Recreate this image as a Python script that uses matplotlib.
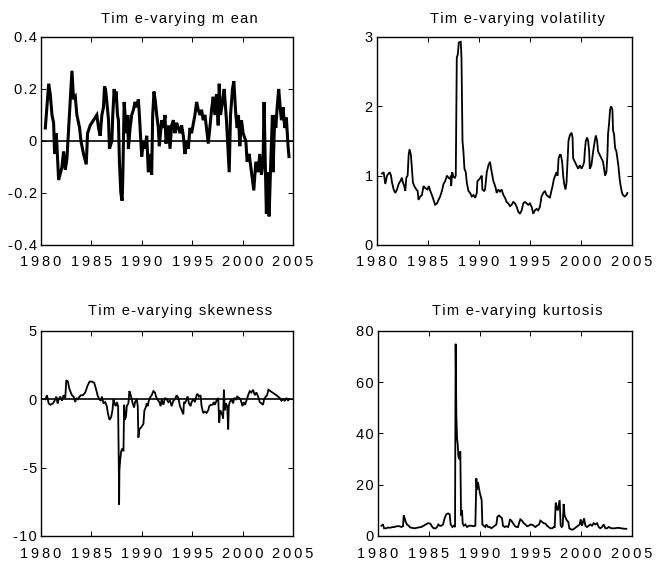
import matplotlib
matplotlib.use("Agg")
import matplotlib.pyplot as plt
from matplotlib.ticker import FixedLocator, FixedFormatter

plt.rcParams['font.family'] = ['Liberation Sans', 'DejaVu Sans']

# time-varying moments, sampled dates (years) and values
mean_t = [1980.43, 1980.76, 1980.92, 1981.09, 1981.25, 1981.35, 1981.52, 1981.75, 1982.08, 1982.24,
          1982.41, 1982.57, 1982.97, 1983.07, 1983.23, 1983.40, 1983.56, 1983.83, 1983.96, 1984.22,
          1984.49, 1984.62, 1984.88, 1985.21, 1985.54, 1985.71, 1985.87, 1986.04, 1986.20, 1986.30,
          1986.40, 1986.53, 1986.70, 1986.79, 1987.03, 1987.12, 1987.26, 1987.35, 1987.45, 1987.59,
          1987.68, 1987.78, 1987.92, 1988.05, 1988.11, 1988.25, 1988.34, 1988.51, 1988.61, 1988.67,
          1988.84, 1989.00, 1989.17, 1989.33, 1989.50, 1989.66, 1989.76, 1989.99, 1990.16, 1990.32,
          1990.49, 1990.65, 1990.82, 1990.98, 1991.08, 1991.21, 1991.35, 1991.48, 1991.64, 1991.74,
          1991.97, 1992.14, 1992.30, 1992.40, 1992.63, 1992.80, 1992.96, 1993.13, 1993.29, 1993.46,
          1993.62, 1993.79, 1993.95, 1994.12, 1994.28, 1994.45, 1994.61, 1994.78, 1994.94, 1995.27,
          1995.44, 1995.60, 1995.77, 1995.93, 1996.09, 1996.26, 1996.42, 1996.59, 1996.75, 1996.92,
          1997.08, 1997.25, 1997.41, 1997.58, 1997.68, 1997.81, 1998.01, 1998.17, 1998.40, 1998.67,
          1998.80, 1999.00, 1999.13, 1999.33, 1999.46, 1999.59, 1999.72, 1999.89, 2000.05, 2000.32,
          2000.45, 2000.65, 2000.88, 2001.11, 2001.31, 2001.54, 2001.70, 2001.87, 2002.03, 2002.13,
          2002.23, 2002.36, 2002.46, 2002.63, 2002.76, 2002.96, 2003.02, 2003.19, 2003.29, 2003.45,
          2003.58, 2003.75, 2003.85, 2004.01, 2004.18, 2004.34, 2004.51, 2004.60]
mean_v = [0.05, 0.22, 0.18, 0.10, 0.07, -0.05, 0.03, -0.15, -0.10, -0.04,
          -0.11, -0.07, 0.20, 0.27, 0.16, 0.17, 0.10, 0.05, 0.00, -0.05,
          -0.09, 0.03, 0.06, 0.08, 0.10, 0.05, 0.02, 0.10, 0.13, 0.21,
          0.20, 0.15, 0.08, -0.03, 0.00, 0.10, 0.20, 0.15, 0.19, 0.10,
          0.08, -0.08, -0.20, -0.23, -0.15, 0.15, 0.10, 0.03, 0.10, -0.03,
          0.05, 0.10, 0.12, 0.15, 0.13, 0.16, 0.10, -0.06, 0.00, -0.03,
          0.02, -0.12, -0.05, -0.13, 0.10, 0.19, 0.15, 0.10, 0.05, -0.02,
          0.08, 0.05, 0.10, -0.01, 0.06, -0.03, 0.06, 0.08, 0.03, 0.07,
          0.05, 0.03, 0.06, 0.02, -0.05, 0.00, -0.03, 0.05, 0.03, 0.10,
          0.15, 0.12, 0.10, 0.12, 0.08, 0.10, 0.05, -0.01, 0.05, 0.12,
          0.17, 0.10, 0.18, 0.06, 0.22, 0.10, 0.15, 0.20, 0.08, -0.12,
          0.10, 0.20, 0.23, 0.10, 0.05, 0.10, -0.02, 0.08, 0.03, 0.00,
          -0.08, -0.05, -0.12, -0.19, -0.08, -0.12, -0.05, -0.13, -0.08, 0.15,
          -0.05, -0.28, -0.12, -0.29, -0.12, 0.10, -0.12, 0.10, 0.05, 0.14,
          0.20, 0.12, 0.08, 0.13, 0.05, 0.09, -0.02, -0.06]

vol_t = [1980.49, 1980.65, 1980.81, 1980.98, 1981.24, 1981.37, 1981.47, 1981.63, 1981.79, 1981.96,
         1982.12, 1982.28, 1982.44, 1982.54, 1982.67, 1982.77, 1982.87, 1983.00, 1983.10, 1983.19,
         1983.32, 1983.42, 1983.52, 1983.65, 1983.85, 1983.98, 1984.07, 1984.24, 1984.40, 1984.56,
         1984.73, 1984.95, 1985.08, 1985.22, 1985.38, 1985.54, 1985.70, 1985.87, 1986.03, 1986.19,
         1986.36, 1986.52, 1986.68, 1986.85, 1987.01, 1987.17, 1987.24, 1987.27, 1987.37, 1987.50,
         1987.63, 1987.72, 1987.82, 1987.92, 1988.02, 1988.21, 1988.28, 1988.38, 1988.47, 1988.57,
         1988.70, 1988.80, 1988.96, 1989.13, 1989.29, 1989.45, 1989.62, 1989.78, 1989.84, 1990.04,
         1990.17, 1990.27, 1990.33, 1990.50, 1990.59, 1990.76, 1990.92, 1991.08, 1991.18, 1991.31,
         1991.41, 1991.51, 1991.64, 1991.73, 1991.90, 1992.06, 1992.22, 1992.39, 1992.55, 1992.71,
         1992.87, 1993.04, 1993.20, 1993.36, 1993.53, 1993.69, 1993.85, 1994.02, 1994.18, 1994.34,
         1994.50, 1994.67, 1994.83, 1994.99, 1995.16, 1995.32, 1995.48, 1995.65, 1995.81, 1995.97,
         1996.13, 1996.30, 1996.46, 1996.62, 1996.79, 1996.95, 1997.05, 1997.21, 1997.34, 1997.47,
         1997.60, 1997.70, 1997.80, 1997.93, 1998.02, 1998.15, 1998.25, 1998.35, 1998.48, 1998.58,
         1998.68, 1998.77, 1998.90, 1999.07, 1999.17, 1999.23, 1999.39, 1999.56, 1999.72, 1999.88,
         2000.05, 2000.21, 2000.31, 2000.37, 2000.47, 2000.60, 2000.70, 2000.80, 2000.86, 2001.02,
         2001.19, 2001.35, 2001.45, 2001.58, 2001.67, 2001.84, 2002.00, 2002.16, 2002.26, 2002.36,
         2002.49, 2002.59, 2002.65, 2002.75, 2002.85, 2002.95, 2003.08, 2003.14, 2003.24, 2003.34,
         2003.47, 2003.57, 2003.66, 2003.79, 2003.89, 2004.02, 2004.12, 2004.28, 2004.45, 2004.54]
vol_v = [1.03, 1.05, 0.88, 1.00, 1.05, 1.00, 0.90, 0.80, 0.75, 0.80,
         0.88, 0.92, 0.97, 0.90, 0.85, 0.78, 0.97, 1.00, 1.30, 1.38,
         1.30, 1.10, 0.90, 0.85, 0.80, 0.78, 0.65, 0.70, 0.72, 0.85,
         0.82, 0.80, 0.85, 0.78, 0.72, 0.65, 0.58, 0.60, 0.65, 0.70,
         0.78, 0.88, 0.92, 1.00, 0.97, 0.95, 1.00, 0.85, 1.05, 0.98,
         0.97, 1.00, 2.70, 2.75, 2.92, 2.93, 2.70, 1.50, 1.35, 1.10,
         1.05, 0.90, 0.78, 0.75, 0.70, 0.72, 0.68, 0.75, 0.92, 0.95,
         0.98, 1.00, 0.80, 0.78, 0.80, 1.05, 1.15, 1.20, 1.10, 1.00,
         0.92, 0.88, 0.82, 0.75, 0.80, 0.77, 0.80, 0.72, 0.68, 0.62,
         0.60, 0.56, 0.58, 0.62, 0.60, 0.55, 0.48, 0.45, 0.50, 0.60,
         0.62, 0.60, 0.58, 0.60, 0.55, 0.45, 0.50, 0.52, 0.50, 0.55,
         0.70, 0.75, 0.78, 0.72, 0.70, 0.68, 0.75, 0.85, 0.95, 1.00,
         1.05, 1.00, 1.25, 1.30, 1.30, 1.20, 1.00, 0.88, 0.80, 0.90,
         1.20, 1.50, 1.58, 1.62, 1.55, 1.25, 1.20, 1.15, 1.10, 1.15,
         1.10, 1.15, 1.20, 1.35, 1.50, 1.55, 1.50, 1.35, 1.10, 1.15,
         1.35, 1.50, 1.58, 1.50, 1.35, 1.30, 1.25, 1.20, 1.10, 1.00,
         1.05, 1.30, 1.60, 1.75, 1.95, 2.00, 1.95, 1.65, 1.60, 1.40,
         1.35, 1.25, 1.15, 0.95, 0.85, 0.75, 0.72, 0.70, 0.72, 0.75]

skew_t = [1980.43, 1980.59, 1980.76, 1980.92, 1981.19, 1981.35, 1981.52, 1981.65, 1981.75, 1981.91,
          1982.08, 1982.24, 1982.41, 1982.51, 1982.67, 1982.80, 1982.90, 1983.07, 1983.23, 1983.40,
          1983.50, 1983.66, 1983.83, 1983.96, 1984.16, 1984.39, 1984.62, 1984.82, 1985.05, 1985.28,
          1985.44, 1985.61, 1985.77, 1985.94, 1986.04, 1986.20, 1986.37, 1986.53, 1986.63, 1986.79,
          1986.96, 1987.09, 1987.19, 1987.29, 1987.42, 1987.52, 1987.65, 1987.72, 1987.75, 1987.78,
          1987.85, 1987.95, 1988.08, 1988.18, 1988.25, 1988.34, 1988.44, 1988.51, 1988.67, 1988.77,
          1988.90, 1989.00, 1989.10, 1989.23, 1989.33, 1989.50, 1989.60, 1989.66, 1989.76, 1989.99,
          1990.16, 1990.26, 1990.39, 1990.49, 1990.59, 1990.72, 1990.88, 1990.98, 1991.15, 1991.31,
          1991.41, 1991.54, 1991.74, 1991.87, 1991.97, 1992.14, 1992.30, 1992.47, 1992.63, 1992.80,
          1992.96, 1993.13, 1993.29, 1993.46, 1993.62, 1993.79, 1993.95, 1994.12, 1994.18, 1994.28,
          1994.45, 1994.54, 1994.68, 1994.84, 1994.94, 1995.11, 1995.27, 1995.44, 1995.53, 1995.67,
          1995.83, 1995.93, 1996.09, 1996.26, 1996.42, 1996.59, 1996.69, 1996.85, 1997.02, 1997.15,
          1997.25, 1997.41, 1997.58, 1997.68, 1997.78, 1997.91, 1998.01, 1998.07, 1998.14, 1998.24,
          1998.34, 1998.47, 1998.57, 1998.63, 1998.73, 1998.90, 1999.06, 1999.16, 1999.33, 1999.46,
          1999.66, 1999.79, 1999.99, 2000.12, 2000.25, 2000.38, 2000.55, 2000.71, 2000.88, 2001.04,
          2001.21, 2001.37, 2001.54, 2001.70, 2001.87, 2002.03, 2002.13, 2002.30, 2002.43, 2002.56,
          2002.76, 2002.96, 2003.15, 2003.35, 2003.52, 2003.68, 2003.85, 2004.01, 2004.18, 2004.34,
          2004.51, 2004.60]
skew_v = [0.0, 0.3, -0.3, -0.4, -0.3, -0.1, 0.2, -0.3, 0.0, 0.2,
          -0.1, 0.3, 0.1, 1.4, 1.3, 0.8, 0.6, 0.3, 0.2, -0.2,
          0.1, 0.0, 0.2, 0.3, 0.3, 0.5, 1.0, 1.3, 1.3, 1.2,
          0.8, 0.3, 0.0, -0.1, 0.2, -0.3, -0.2, -0.5, -1.0, -1.5,
          -1.3, -0.8, 0.0, -0.3, -0.5, -0.2, -0.5, -5.0, -7.7, -5.2,
          -4.5, -3.8, -3.6, -3.8, -0.4, -1.5, -1.2, -0.5, -0.3, 0.6,
          0.3, 0.0, -0.3, -0.6, -0.2, 0.0, -0.5, -2.8, -2.2, -2.0,
          -1.8, -0.8, -0.6, -0.3, -0.5, 0.0, 0.2, 0.3, 0.6, 0.5,
          0.2, 0.0, -0.2, -0.5, 0.0, -0.4, 0.1, 0.0, -0.2, -0.1,
          -0.5, -0.1, 0.0, 0.3, 0.1, -0.5, -0.8, -1.1, -0.2, -0.3,
          0.0, 0.2, -0.3, -0.5, -0.2, 0.0, -0.2, 0.3, 0.4, 0.2,
          0.3, -0.5, -1.0, -0.9, -1.0, -0.8, -0.5, -0.4, -0.4, -0.2,
          -0.4, -0.1, 0.1, -1.7, -0.8, -1.0, -1.2, -1.4, 0.7, -0.8,
          -0.3, -0.5, -2.2, -0.5, -0.2, 0.0, -0.3, 0.1, 0.0, 0.2,
          0.1, 0.0, -0.5, -0.2, -0.4, -0.1, 0.3, 0.6, 0.5, 0.7,
          0.3, 0.5, 0.2, -0.2, -0.3, -0.4, 0.0, 0.2, 0.3, 0.7,
          0.6, 0.5, 0.4, 0.3, 0.2, 0.1, -0.1, 0.0, -0.1, 0.1,
          -0.1, 0.0]

kurt_t = [1980.33, 1980.49, 1980.59, 1980.82, 1980.98, 1981.15, 1981.48, 1981.64, 1981.80, 1982.13,
          1982.30, 1982.46, 1982.53, 1982.62, 1982.72, 1982.85, 1983.02, 1983.12, 1983.28, 1983.61,
          1983.94, 1984.27, 1984.49, 1984.69, 1984.92, 1985.15, 1985.35, 1985.48, 1985.68, 1985.81,
          1985.94, 1986.07, 1986.23, 1986.40, 1986.56, 1986.73, 1986.89, 1987.05, 1987.15, 1987.32,
          1987.45, 1987.58, 1987.64, 1987.68, 1987.71, 1987.78, 1987.84, 1987.91, 1988.01, 1988.10,
          1988.17, 1988.27, 1988.33, 1988.43, 1988.60, 1988.76, 1988.96, 1989.19, 1989.42, 1989.58,
          1989.68, 1989.74, 1989.81, 1989.88, 1990.01, 1990.14, 1990.20, 1990.27, 1990.40, 1990.56,
          1990.66, 1990.83, 1990.99, 1991.15, 1991.32, 1991.48, 1991.65, 1991.75, 1991.91, 1992.04,
          1992.20, 1992.30, 1992.47, 1992.63, 1992.80, 1992.89, 1992.99, 1993.12, 1993.29, 1993.45,
          1993.62, 1993.78, 1993.88, 1994.01, 1994.17, 1994.34, 1994.50, 1994.67, 1994.83, 1995.03,
          1995.26, 1995.49, 1995.65, 1995.85, 1995.98, 1996.14, 1996.31, 1996.50, 1996.63, 1996.80,
          1996.96, 1997.16, 1997.29, 1997.39, 1997.49, 1997.59, 1997.68, 1997.78, 1997.88, 1997.98,
          1998.08, 1998.18, 1998.27, 1998.37, 1998.47, 1998.60, 1998.73, 1998.83, 1999.03, 1999.19,
          1999.36, 1999.52, 1999.69, 1999.85, 1999.95, 2000.08, 2000.18, 2000.28, 2000.41, 2000.57,
          2000.73, 2000.90, 2001.06, 2001.23, 2001.39, 2001.56, 2001.72, 2001.88, 2002.05, 2002.21,
          2002.38, 2002.54, 2002.70, 2002.97, 2003.29, 2003.62, 2003.95, 2004.28, 2004.44]
kurt_v = [4.0, 4.5, 3.0, 3.0, 3.3, 3.2, 3.5, 3.5, 3.8, 3.8,
          3.5, 3.8, 8.0, 7.0, 5.5, 4.5, 4.0, 3.5, 3.2, 3.0,
          3.3, 3.5, 4.0, 4.5, 5.0, 4.8, 3.5, 3.0, 3.0, 3.5,
          4.5, 4.0, 4.0, 4.5, 7.0, 8.5, 8.8, 8.5, 4.5, 3.5,
          4.0, 3.5, 75.0, 60.0, 47.0, 38.0, 36.0, 31.0, 30.0, 33.0,
          8.0, 10.0, 5.0, 4.0, 4.5, 3.5, 4.0, 4.0, 3.8, 4.0,
          22.5, 18.0, 21.0, 20.0, 17.0, 15.0, 14.0, 4.5, 4.0, 3.5,
          4.5, 3.5, 3.5, 3.0, 3.5, 4.0, 4.5, 7.5, 8.0, 7.5,
          7.0, 4.0, 3.5, 3.8, 3.5, 4.5, 6.5, 6.0, 5.0, 4.0,
          3.5, 3.5, 5.0, 6.5, 6.0, 5.0, 4.5, 3.8, 4.0, 4.5,
          4.2, 3.5, 4.0, 4.5, 6.0, 5.5, 5.0, 4.8, 4.0, 3.5,
          3.0, 3.0, 3.5, 3.5, 13.0, 11.0, 10.0, 12.0, 14.0, 4.0,
          3.5, 4.0, 12.5, 8.0, 7.0, 6.0, 5.5, 3.0, 2.5, 2.5,
          3.0, 3.5, 4.0, 4.5, 6.5, 4.0, 5.5, 6.8, 4.0, 3.5,
          4.0, 4.5, 4.0, 5.0, 4.5, 5.0, 3.5, 3.0, 3.5, 4.5,
          3.0, 3.0, 3.5, 3.0, 3.0, 3.2, 3.0, 2.8, 2.8]

year_ticks = [1980, 1985, 1990, 1995, 2000, 2005]

panels = [
    ("Tim e-varying m ean", mean_t, mean_v, (-0.4, 0.4), [-0.4, -0.2, 0, 0.2, 0.4],
     ["-0.4", "-0.2", "0", "0.2", "0.4"], True, 2.2),
    ("Tim e-varying volatility", vol_t, vol_v, (0, 3), [0, 1, 2, 3],
     ["0", "1", "2", "3"], False, 1.3),
    ("Tim e-varying skewness", skew_t, skew_v, (-10, 5), [-10, -5, 0, 5],
     ["-10", "-5", "0", "5"], True, 1.3),
    ("Tim e-varying kurtosis", kurt_t, kurt_v, (0, 80), [0, 20, 40, 60, 80],
     ["0", "20", "40", "60", "80"], False, 1.3),
]

# axes boxes in figure fractions
boxes = [
    [0.0623, 0.5633, 0.3830, 0.3708],
    [0.5730, 0.5633, 0.3875, 0.3708],
    [0.0623, 0.0446, 0.3830, 0.3654],
    [0.5745, 0.0446, 0.3860, 0.3654],
]


def spaced(s, sep="\u2009"):
    return sep.join(s)


fig = plt.figure(figsize=(6.58, 5.61), dpi=100)

for i, (title, t, v, ylim, yticks, ylabels, zero, lw) in enumerate(panels):
    ax = fig.add_axes(boxes[i])
    ax.plot(t, v, color="black", lw=lw, solid_joinstyle="miter")
    if zero:
        ax.axhline(0, color="black", lw=1.2)
    ax.set_xlim(1980, 2005)
    ax.set_ylim(*ylim)
    ax.xaxis.set_major_locator(FixedLocator(year_ticks))
    ax.xaxis.set_major_formatter(FixedFormatter([spaced(str(y)) for y in year_ticks]))
    ax.yaxis.set_major_locator(FixedLocator(yticks))
    ax.yaxis.set_major_formatter(FixedFormatter([spaced(s, "\u200a") for s in ylabels]))
    ax.tick_params(direction="in", length=3.5, width=0.7, top=True, right=True,
                   labelsize=10.5, colors="black")
    ax.tick_params(axis="x", pad=7 if i < 2 else 8)
    ax.tick_params(axis="y", pad=3)
    for sp in ax.spines.values():
        sp.set_linewidth(1.0)
    ax.text(0.55, 1.0 + (14 / 208 if i < 2 else 16 / 205), spaced(title, "\u200a"),
            transform=ax.transAxes, ha="center", va="baseline", fontsize=10.5)

fig.savefig("out.png", dpi=100)
